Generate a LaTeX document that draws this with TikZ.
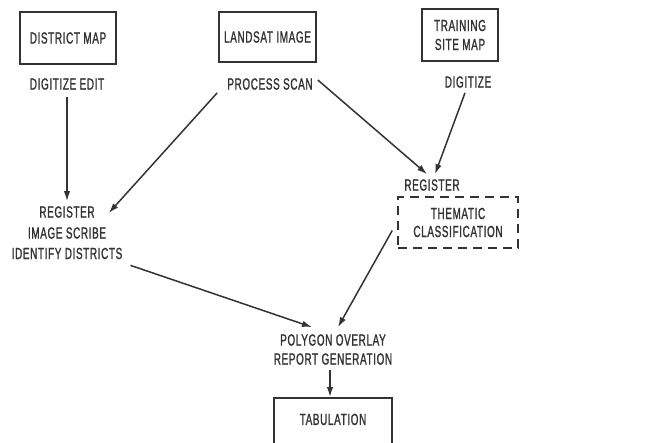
\documentclass[tikz,border=0pt]{standalone}
\usepackage{fontspec}
\setmainfont{Liberation Sans}[FakeStretch=0.62, LetterSpace=4, FakeBold=1.2]
\usetikzlibrary{arrows.meta}
\definecolor{ink}{HTML}{333333}
\tikzset{
  every node/.style={text=ink, font=\fontsize{16}{19}\selectfont, inner sep=3pt, align=center},
  box/.style={draw=ink, line width=1.5pt},
  dbox/.style={draw=ink, line width=1.5pt, dash pattern=on 9pt off 6pt},
  arr/.style={draw=ink, line width=1.5pt, -{Latex[length=10pt,width=6.5pt]}},
}
\begin{document}
\begin{tikzpicture}[x=1pt,y=-1pt]
\useasboundingbox (0,0) rectangle (645,443);
% top boxes
\node[box, minimum width=96pt, minimum height=52pt] (dmap) at (68,38) {DISTRICT MAP};
\node[box, minimum width=97pt, minimum height=50pt] (land) at (267.5,37) {LANDSAT IMAGE};
\node[box, minimum width=76pt, minimum height=52pt] (train) at (460,35) {TRAINING\\SITE MAP};
% operations
\node (digedit) at (67,84) {DIGITIZE EDIT};
\node (scan) at (270,84) {PROCESS SCAN};
\node (digit) at (468,82) {DIGITIZE};
% left block
\node (lreg) at (67,212) {REGISTER};
\node (scribe) at (67,233) {IMAGE SCRIBE};
\node (ident) at (67,253.5) {IDENTIFY DISTRICTS};
% right
\node (rreg) at (432,185) {REGISTER};
\node[dbox, minimum width=120pt, minimum height=51pt, font=\fontsize{16}{18}\selectfont] (them) at (458,222.5) {THEMATIC\\CLASSIFICATION};
% bottom
\node (poly) at (333,349.5) {POLYGON OVERLAY\\REPORT GENERATION};
\node[box, anchor=north, minimum width=118pt, text depth=14pt, inner ysep=16pt] (tab) at (333,397) {TABULATION};
% connectors
\draw[arr] ([yshift=-4pt]digedit.south) -- ([yshift=2pt]lreg.north);
\draw[arr] ([xshift=-7pt]scan.south west) -- ([xshift=11pt,yshift=-1pt]lreg.east);
\draw[arr] ([xshift=2pt,yshift=4pt]scan.east) -- ([xshift=-5pt,yshift=2pt]rreg.north);
\draw[arr] ([xshift=-3pt,yshift=-2pt]digit.south) -- ([xshift=3pt,yshift=2pt]rreg.north);
\draw[arr] ([xshift=5pt,yshift=-3pt]ident.south east) -- ([xshift=-21pt,yshift=4pt]poly.north);
\draw[arr] ([xshift=-5pt,yshift=-8pt]them.west) -- ([xshift=5pt,yshift=4pt]poly.north);
\draw[arr] ([xshift=-3pt,yshift=-2pt]poly.south) -- ([xshift=-3pt]tab.north);
\end{tikzpicture}
\end{document}
